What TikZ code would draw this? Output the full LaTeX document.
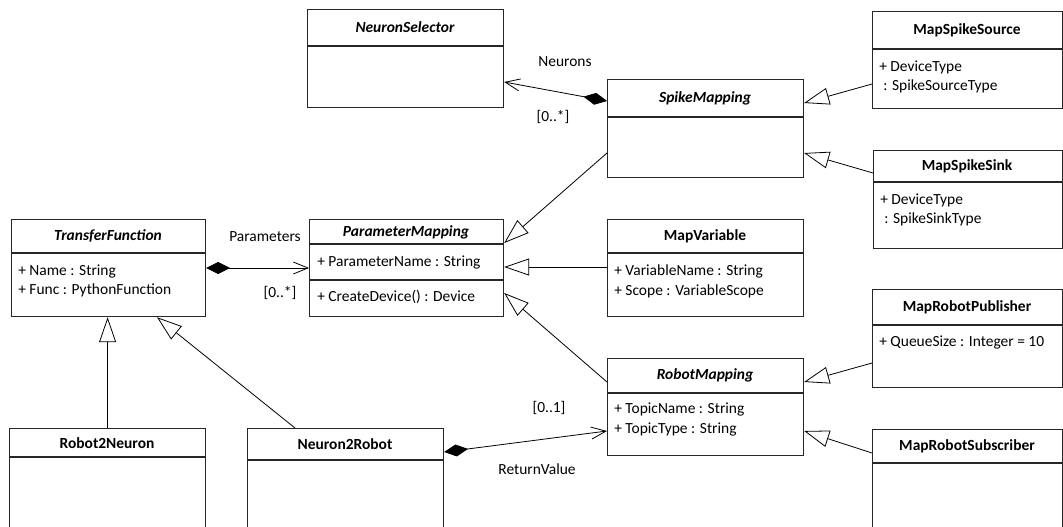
\documentclass[tikz,border=0pt]{standalone}
\usepackage{fontspec}
\setmainfont{Carlito}
\usetikzlibrary{arrows.meta}
\tikzset{
  box/.style={draw=black!85, line width=0.9pt, rectangle, inner sep=0pt, fill=none},
  divider/.style={draw=black!85, line width=0.9pt},
  title/.style={font=\fontsize{11.6}{13.5}\selectfont\bfseries, inner sep=0pt},
  atitle/.style={font=\fontsize{11.6}{13.5}\selectfont\bfseries\itshape, inner sep=0pt},
  attr/.style={font=\fontsize{11.6}{13.5}\selectfont, inner sep=0pt, anchor=west},
  lbl/.style={font=\fontsize{11.6}{13.5}\selectfont, inner sep=0pt},
  gen/.style={draw=black, line width=0.6pt, -{Triangle[open,length=18.75pt,width=12.75pt,fill=white,line width=0.6pt]}},
  comp/.style={draw=black, line width=0.6pt, {Diamond[length=18pt,width=9pt,fill=black]}-{Straight Barb[length=11pt,width=9pt,line width=0.6pt]}},
}
\newcommand\classbox[6]{%
  \node[box, minimum width={(#4-#2)*0.75pt}, minimum height={(#5-#3)*0.75pt}, anchor=north west] (#1) at (#2,#3) {};
  \draw[divider] (#1.west |- 0,#6) -- (#1.east |- 0,#6);
}
\begin{document}
\begin{tikzpicture}[x=0.75pt,y=-0.75pt]
\useasboundingbox (0,0) rectangle (1063,526);
\clip (0,0) rectangle (1063,526);

% ---------- boxes ----------
\classbox{ns}{307}{9}{503}{107}{46}
\node[atitle] (nsT) at (405,27.5) {NeuronSelector};

\classbox{sm}{607}{79}{803}{177}{117}
\node[atitle] (smT) at (705,98) {SpikeMapping};

\classbox{mss}{872}{11}{1061.5}{108}{49}
\node[title] (mssT) at (967,30) {MapSpikeSource};
\node[attr] (mssA) at (879,67) {+ DeviceType};
\node[attr] (mssB) at (883,86) {: SpikeSourceType};

\classbox{msk}{873}{150}{1061.5}{248}{182}
\node[title] (mskT) at (967,166) {MapSpikeSink};
\node[attr] (mskA) at (880,200) {+ DeviceType};
\node[attr] (mskB) at (884,219) {: SpikeSinkType};

\classbox{tf}{11}{219}{205}{316}{253}
\node[atitle] (tfT) at (108,236) {TransferFunction};
\node[attr] (tfA) at (18,271) {+ Name : String};
\node[attr] (tfB) at (18,290) {+ Func : PythonFunction};

\classbox{pm}{309}{219}{503}{316}{244}
\draw[divider] (pm.west |- 0,280) -- (pm.east |- 0,280);
\node[atitle] (pmT) at (406,232) {ParameterMapping};
\node[attr] (pmA) at (317,262) {+ ParameterName : String};
\node[attr] (pmB) at (317,297) {+ CreateDevice() : Device};

\classbox{mv}{607}{219}{803}{316}{253}
\node[title] (mvT) at (705,236) {MapVariable};
\node[attr] (mvA) at (614,271) {+ VariableName : String};
\node[attr] (mvB) at (614,291) {+ Scope : VariableScope};

\classbox{rm}{607}{358}{803}{455}{393}
\node[atitle] (rmT) at (705,375) {RobotMapping};
\node[attr] (rmA) at (614,409) {+ TopicName : String};
\node[attr] (rmB) at (614,429) {+ TopicType : String};

\classbox{mrp}{872}{289}{1061.5}{387}{325}
\node[title] (mrpT) at (967,307) {MapRobotPublisher};
\node[attr] (mrpA) at (879,342) {+ QueueSize : Integer = 10};

\classbox{mrs}{872}{429}{1061.5}{535}{463}
\node[title] (mrsT) at (967,446) {MapRobotSubscriber};

\classbox{rn}{9}{428}{205}{535}{457}
\node[title] (rnT) at (107,443) {Robot2Neuron};

\classbox{nr}{247}{428}{443}{535}{460}
\node[title] (nrT) at (345,444) {Neuron2Robot};

% ---------- connectors ----------
% Neurons composition
\draw[comp] (sm.west |- 0,101) -- (ns.east |- 0,82);
\node[lbl] (lNeurons) at (565,62) {Neurons};
\node[lbl] (lNeuronsM) at (553,117) {[0..*]};

% Parameters composition
\draw[comp] (tf.east |- 0,268) -- (pm.west |- 0,268);
\node[lbl] (lParams) at (265,237) {Parameters};
\node[lbl] (lParamsM) at (280,293) {[0..*]};

% ReturnValue composition
\draw[comp] (nr.east |- 0,452) -- (rm.west |- 0,431);
\node[lbl] (lRet) at (537,469) {ReturnValue};
\node[lbl] (lRetM) at (549,408) {[0..1]};

% generalizations
\draw[gen] (sm.west |- 0,153) -- (pm.east |- 0,243);
\draw[gen] (mv.west |- 0,267) -- (pm.east |- 0,267);
\draw[gen] (rm.west |- 0,382) -- (pm.east |- 0,293);
\draw[gen] (mss.west |- 0,84) -- (sm.east |- 0,103);
\draw[gen] (msk.west |- 0,173) -- (sm.east |- 0,153);
\draw[gen] (mrp.west |- 0,363) -- (rm.east |- 0,382);
\draw[gen] (mrs.west |- 0,453) -- (rm.east |- 0,431);
\draw[gen] (rn.north) -- (tf.south -| rn.north);
\draw[gen] (nr.north west -| 295,0) -- (tf.south west -| 157,0);
\end{tikzpicture}
\end{document}
